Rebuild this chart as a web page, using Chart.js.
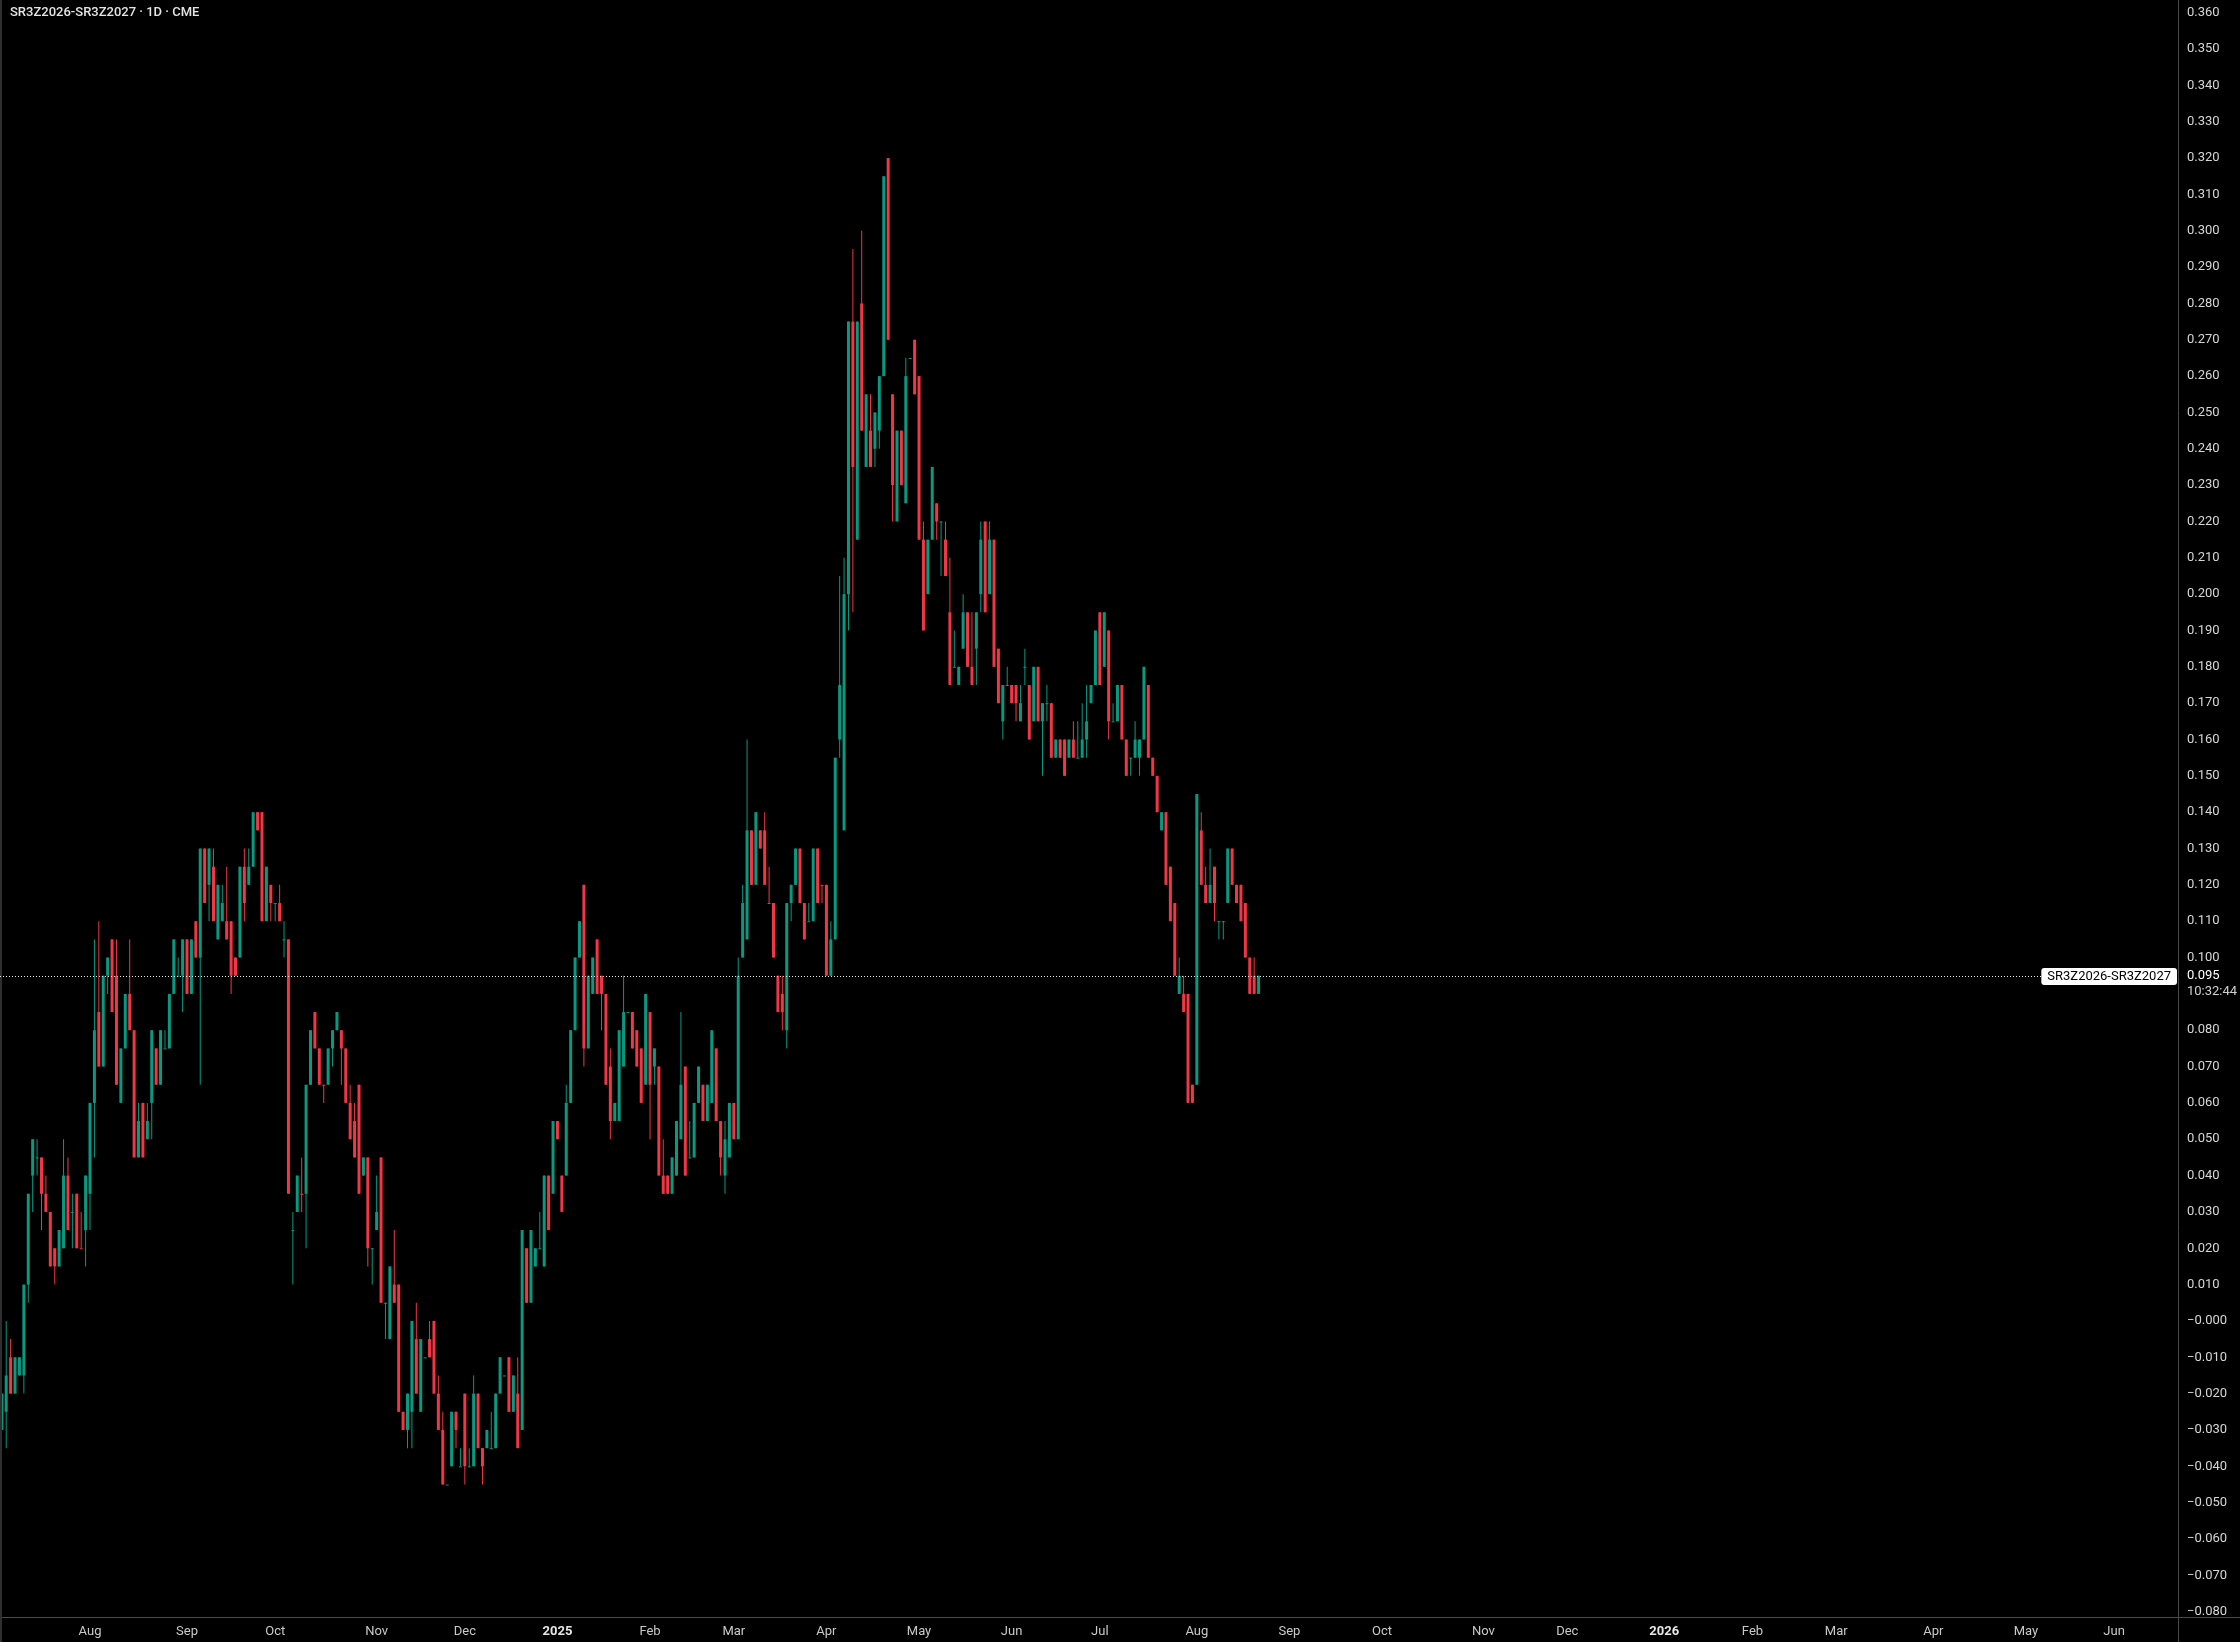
<!DOCTYPE html>
<html>
<head>
<meta charset="utf-8">
<script src="https://cdn.jsdelivr.net/npm/chart.js@4.4.1/dist/chart.umd.min.js"></script>
<style>
html,body{margin:0;padding:0;background:#000;}
#wrap{position:relative;width:2240px;height:1642px;overflow:hidden;}
#c{position:absolute;left:0;top:0;}
#title{position:absolute;left:10px;top:4px;font:500 13px Roboto, sans-serif;line-height:16px;color:#e4e4e4;white-space:nowrap;}
</style>
</head>
<body>
<div id="wrap">
<canvas id="c" width="2240" height="1642"></canvas>
<div id="title">SR3Z2026-SR3Z2027 · 1D · CME</div>
</div>
<script>
// ---------------- data ----------------
const symbol = "SR3Z2026-SR3Z2027";
const countdown = "10:32:44";
const firstSession = "2024-07-03";
const holidays = ["2024-07-04","2024-09-02","2024-11-28","2024-12-25","2025-01-01","2025-01-20","2025-02-17",
  "2025-04-18","2025-05-26","2025-06-19","2025-07-04","2025-09-01","2025-11-27","2025-12-25",
  "2026-01-01","2026-01-19","2026-02-16","2026-04-03","2026-05-25"];
const monthNames = ["Jan","Feb","Mar","Apr","May","Jun","Jul","Aug","Sep","Oct","Nov","Dec"];

const open = [
-0.030,-0.025,-0.010,-0.020,-0.015,-0.015,0.010,0.040,0.045,0.045,
0.035,0.030,0.020,0.015,0.020,0.040,0.030,0.035,0.020,0.025,
0.035,0.060,0.085,0.070,0.095,0.105,0.095,0.060,0.075,0.090,
0.080,0.045,0.060,0.050,0.060,0.075,0.065,0.075,0.075,0.090,
0.095,0.095,0.105,0.090,0.110,0.100,0.130,0.120,0.125,0.105,
0.110,0.110,0.110,0.100,0.100,0.125,0.120,0.125,0.140,0.140,
0.110,0.120,0.115,0.115,0.105,0.105,0.025,0.030,0.035,0.035,
0.065,0.085,0.075,0.065,0.065,0.075,0.080,0.080,0.075,0.060,
0.055,0.065,0.040,0.045,0.020,0.025,0.045,0.005,-0.005,0.010,
0.010,-0.025,-0.030,-0.025,-0.005,-0.025,-0.010,-0.005,0.000,-0.020,
-0.030,-0.045,-0.040,-0.025,-0.040,-0.020,-0.040,-0.040,-0.020,-0.035,
-0.035,-0.035,-0.035,-0.020,-0.015,-0.010,-0.025,-0.020,-0.030,0.020,
0.005,0.015,0.020,0.015,0.040,0.035,0.055,0.040,0.040,0.060,
0.080,0.100,0.120,0.075,0.090,0.105,0.095,0.090,0.070,0.055,
0.055,0.070,0.085,0.085,0.080,0.075,0.065,0.085,0.070,0.070,
0.040,0.040,0.035,0.040,0.050,0.070,0.045,0.045,0.060,0.065,
0.055,0.060,0.075,0.055,0.040,0.045,0.060,0.050,0.100,0.105,
0.135,0.120,0.135,0.135,0.115,0.115,0.095,0.090,0.080,0.115,
0.120,0.130,0.115,0.110,0.110,0.130,0.120,0.120,0.095,0.105,
0.160,0.135,0.200,0.275,0.215,0.280,0.235,0.245,0.240,0.245,
0.260,0.320,0.255,0.220,0.245,0.225,0.265,0.270,0.260,0.215,
0.200,0.215,0.225,0.220,0.215,0.195,0.180,0.175,0.185,0.195,
0.180,0.185,0.200,0.220,0.200,0.215,0.185,0.165,0.175,0.175,
0.175,0.165,0.180,0.175,0.165,0.180,0.165,0.170,0.170,0.155,
0.160,0.160,0.155,0.160,0.155,0.155,0.160,0.170,0.175,0.195,
0.180,0.190,0.165,0.165,0.175,0.160,0.155,0.155,0.155,0.160,
0.175,0.155,0.150,0.135,0.140,0.125,0.115,0.090,0.090,0.090,
0.065,0.065,0.135,0.120,0.115,0.125,0.110,0.110,0.115,0.130,
0.120,0.120,0.115,0.100,0.095,0.090];

const high = [
-0.020,0.000,-0.005,-0.010,-0.010,0.010,0.035,0.050,0.050,0.045,
0.040,0.030,0.020,0.025,0.050,0.045,0.035,0.035,0.030,0.040,
0.060,0.105,0.110,0.095,0.100,0.105,0.105,0.075,0.090,0.105,
0.080,0.060,0.060,0.060,0.080,0.075,0.080,0.080,0.090,0.105,
0.100,0.105,0.105,0.105,0.110,0.130,0.130,0.130,0.130,0.120,
0.120,0.125,0.110,0.100,0.125,0.130,0.130,0.140,0.140,0.140,
0.125,0.120,0.115,0.120,0.110,0.105,0.030,0.040,0.045,0.065,
0.080,0.085,0.075,0.065,0.075,0.080,0.085,0.080,0.075,0.065,
0.060,0.065,0.045,0.045,0.020,0.040,0.045,0.005,0.015,0.025,
0.010,-0.025,-0.020,0.000,0.005,-0.005,-0.010,0.000,0.000,-0.015,
-0.025,-0.045,-0.025,-0.025,-0.035,-0.020,-0.035,-0.015,-0.020,-0.035,
-0.030,-0.025,-0.020,-0.010,-0.015,-0.010,-0.015,-0.010,0.025,0.020,
0.025,0.020,0.030,0.040,0.040,0.055,0.055,0.040,0.065,0.080,
0.100,0.110,0.120,0.095,0.100,0.105,0.095,0.090,0.075,0.060,
0.080,0.095,0.085,0.085,0.080,0.075,0.090,0.085,0.075,0.070,
0.050,0.040,0.045,0.055,0.085,0.070,0.055,0.060,0.070,0.065,
0.065,0.080,0.075,0.055,0.055,0.060,0.060,0.100,0.120,0.160,
0.135,0.140,0.135,0.140,0.125,0.115,0.095,0.095,0.115,0.120,
0.130,0.130,0.115,0.115,0.130,0.130,0.120,0.120,0.110,0.155,
0.205,0.210,0.275,0.295,0.275,0.300,0.255,0.255,0.250,0.260,
0.315,0.320,0.255,0.245,0.245,0.265,0.265,0.270,0.260,0.220,
0.215,0.235,0.225,0.220,0.220,0.210,0.190,0.180,0.200,0.195,
0.195,0.195,0.220,0.220,0.220,0.215,0.185,0.175,0.180,0.175,
0.175,0.175,0.185,0.175,0.180,0.180,0.170,0.175,0.170,0.160,
0.160,0.160,0.160,0.165,0.165,0.170,0.175,0.175,0.190,0.195,
0.195,0.190,0.170,0.175,0.175,0.160,0.155,0.165,0.160,0.180,
0.175,0.155,0.150,0.140,0.140,0.125,0.115,0.100,0.095,0.090,
0.065,0.145,0.140,0.125,0.130,0.125,0.110,0.110,0.130,0.130,
0.120,0.120,0.115,0.100,0.100,0.095];

const low = [
-0.030,-0.035,-0.020,-0.020,-0.015,-0.020,0.005,0.030,0.040,0.025,
0.030,0.015,0.010,0.015,0.020,0.025,0.020,0.020,0.020,0.015,
0.025,0.045,0.070,0.070,0.090,0.085,0.065,0.060,0.075,0.080,
0.045,0.045,0.045,0.050,0.050,0.065,0.065,0.075,0.075,0.090,
0.095,0.085,0.090,0.090,0.100,0.065,0.115,0.110,0.110,0.105,
0.110,0.105,0.090,0.095,0.100,0.110,0.120,0.125,0.135,0.110,
0.110,0.110,0.110,0.110,0.100,0.035,0.010,0.030,0.030,0.020,
0.065,0.075,0.065,0.060,0.065,0.070,0.080,0.065,0.060,0.050,
0.045,0.035,0.040,0.015,0.010,0.025,0.005,-0.005,-0.005,0.005,
-0.025,-0.030,-0.035,-0.035,-0.020,-0.025,-0.010,-0.010,-0.020,-0.030,
-0.045,-0.045,-0.040,-0.035,-0.040,-0.045,-0.040,-0.040,-0.035,-0.045,
-0.035,-0.035,-0.035,-0.020,-0.015,-0.025,-0.025,-0.035,-0.030,0.005,
0.005,0.015,0.020,0.015,0.025,0.035,0.050,0.030,0.040,0.060,
0.080,0.100,0.070,0.075,0.090,0.090,0.080,0.065,0.050,0.055,
0.055,0.070,0.085,0.075,0.070,0.060,0.065,0.050,0.065,0.040,
0.035,0.035,0.035,0.040,0.050,0.040,0.045,0.045,0.060,0.055,
0.055,0.060,0.055,0.040,0.035,0.045,0.050,0.050,0.100,0.105,
0.120,0.120,0.130,0.120,0.115,0.100,0.085,0.080,0.075,0.110,
0.120,0.115,0.105,0.110,0.110,0.115,0.115,0.095,0.095,0.105,
0.155,0.135,0.190,0.195,0.215,0.245,0.235,0.235,0.235,0.240,
0.260,0.270,0.220,0.220,0.230,0.225,0.265,0.255,0.215,0.190,
0.200,0.215,0.215,0.205,0.205,0.175,0.180,0.175,0.185,0.180,
0.175,0.175,0.195,0.195,0.200,0.180,0.170,0.160,0.175,0.170,
0.165,0.165,0.175,0.160,0.165,0.165,0.150,0.165,0.155,0.155,
0.155,0.150,0.155,0.155,0.155,0.155,0.155,0.170,0.175,0.175,
0.180,0.160,0.165,0.165,0.160,0.150,0.150,0.155,0.150,0.160,
0.155,0.150,0.140,0.135,0.120,0.110,0.095,0.090,0.085,0.060,
0.060,0.065,0.120,0.115,0.115,0.110,0.105,0.105,0.115,0.120,
0.115,0.110,0.100,0.090,0.090,0.090];

const close = [
-0.020,-0.015,-0.020,-0.010,-0.010,0.010,0.035,0.050,0.045,0.035,
0.030,0.015,0.015,0.025,0.040,0.025,0.030,0.020,0.020,0.040,
0.060,0.080,0.070,0.095,0.100,0.085,0.065,0.075,0.090,0.080,
0.045,0.055,0.045,0.055,0.080,0.065,0.080,0.075,0.090,0.105,
0.095,0.105,0.090,0.105,0.100,0.130,0.115,0.130,0.110,0.120,
0.115,0.105,0.095,0.095,0.125,0.115,0.125,0.140,0.135,0.110,
0.125,0.115,0.115,0.110,0.105,0.035,0.025,0.040,0.035,0.065,
0.080,0.075,0.065,0.065,0.075,0.080,0.085,0.075,0.060,0.050,
0.045,0.035,0.045,0.020,0.020,0.030,0.005,0.005,0.015,0.005,
-0.025,-0.030,-0.020,0.000,-0.020,-0.005,-0.010,-0.010,-0.020,-0.030,
-0.045,-0.045,-0.025,-0.030,-0.040,-0.040,-0.040,-0.020,-0.035,-0.040,
-0.030,-0.035,-0.020,-0.010,-0.015,-0.025,-0.015,-0.035,0.025,0.005,
0.025,0.020,0.020,0.040,0.025,0.055,0.050,0.030,0.060,0.080,
0.100,0.110,0.075,0.095,0.100,0.090,0.090,0.065,0.055,0.060,
0.080,0.085,0.085,0.075,0.070,0.060,0.090,0.065,0.075,0.040,
0.035,0.035,0.045,0.055,0.065,0.040,0.045,0.060,0.070,0.055,
0.065,0.080,0.055,0.045,0.050,0.060,0.050,0.095,0.115,0.135,
0.120,0.140,0.130,0.120,0.115,0.100,0.085,0.085,0.115,0.120,
0.130,0.115,0.105,0.110,0.130,0.115,0.120,0.095,0.105,0.155,
0.175,0.200,0.275,0.235,0.275,0.245,0.255,0.235,0.250,0.260,
0.315,0.270,0.230,0.245,0.230,0.260,0.265,0.255,0.215,0.190,
0.215,0.235,0.220,0.220,0.205,0.175,0.180,0.180,0.195,0.180,
0.175,0.195,0.215,0.195,0.215,0.180,0.170,0.175,0.175,0.170,
0.170,0.170,0.180,0.160,0.180,0.165,0.170,0.170,0.155,0.160,
0.155,0.150,0.160,0.155,0.155,0.160,0.165,0.175,0.190,0.175,
0.195,0.165,0.165,0.175,0.160,0.150,0.155,0.160,0.160,0.180,
0.155,0.150,0.140,0.140,0.120,0.110,0.095,0.095,0.085,0.060,
0.060,0.145,0.120,0.115,0.120,0.115,0.110,0.110,0.130,0.120,
0.115,0.110,0.100,0.090,0.090,0.095];

// bars whose open equals close but were drawn in the "down" colour
const downDojiBars = [18, 68, 73, 174, 186];

const yTickValues = [-0.08,-0.07,-0.06,-0.05,-0.04,-0.03,-0.02,-0.01,0,0.01,0.02,0.03,0.04,0.05,0.06,0.07,0.08,0.09,
  0.10,0.11,0.12,0.13,0.14,0.15,0.16,0.17,0.18,0.19,0.20,0.21,0.22,0.23,0.24,0.25,0.26,0.27,0.28,0.29,0.30,
  0.31,0.32,0.33,0.34,0.35,0.36];

// ---------------- view ----------------
const UP = '#089981', DOWN = '#F23645';
const X_MIN = -0.41, X_MAX = 493.5;       // visible bar-index window
const Y_MIN = -0.08147, Y_MAX = 0.3635;   // visible price window
const SESSIONS_SHOWN = 495;

// trading-session calendar (weekdays minus exchange holidays)
function sessions(start, n) {
  const out = [];
  const d = new Date(start + 'T00:00:00Z');
  while (out.length < n) {
    const dow = d.getUTCDay();
    const s = d.toISOString().slice(0, 10);
    if (dow !== 0 && dow !== 6 && !holidays.includes(s)) out.push(s);
    d.setUTCDate(d.getUTCDate() + 1);
  }
  return out;
}
const dates = sessions(firstSession, SESSIONS_SHOWN);
const monthTicks = [];
for (let i = 1; i < dates.length; i++) {
  if (dates[i].slice(5, 7) !== dates[i - 1].slice(5, 7)) {
    const m = +dates[i].slice(5, 7) - 1;
    monthTicks.push({ idx: i, label: m === 0 ? dates[i].slice(0, 4) : monthNames[m], year: m === 0 });
  }
}
const tickLabel = {}; const yearTick = new Set();
monthTicks.forEach(t => { tickLabel[t.idx] = t.label; if (t.year) yearTick.add(t.idx); });

const colors = open.map((o, i) => close[i] > o ? UP : close[i] < o ? DOWN : (downDojiBars.includes(i) ? DOWN : UP));
const bodies = open.map((o, i) => ({ x: i, y: [Math.min(o, close[i]), Math.max(o, close[i])] }));
const wicks = high.map((h, i) => ({ x: i, y: [low[i], h] }));
const lastClose = close[close.length - 1];

function fmt(v) {
  const r = Math.round(v * 1000) / 1000;
  if (r <= 0) return '\u2212' + Math.abs(r).toFixed(3);
  return r.toFixed(3);
}

const decor = {
  id: 'decor',
  afterDraw(chart) {
    const ctx = chart.ctx, ca = chart.chartArea, ys = chart.scales.y;
    ctx.save();
    // axis frame lines
    ctx.strokeStyle = '#4a4a4a'; ctx.lineWidth = 1;
    ctx.beginPath(); ctx.moveTo(Math.round(ca.right) + 0.5, 0); ctx.lineTo(Math.round(ca.right) + 0.5, chart.height); ctx.stroke();
    ctx.beginPath(); ctx.moveTo(0, Math.round(ca.bottom) + 0.5); ctx.lineTo(chart.width, Math.round(ca.bottom) + 0.5); ctx.stroke();
    ctx.strokeStyle = '#2e2e2e'; ctx.lineWidth = 2;
    ctx.beginPath(); ctx.moveTo(1, 0); ctx.lineTo(1, chart.height); ctx.stroke();

    // last price dotted line + symbol tag
    const py = Math.round(ys.getPixelForValue(lastClose));
    ctx.font = '13px Roboto, sans-serif';
    const tw = ctx.measureText(symbol).width;
    const bw = tw + 12, bh = 17;
    const bx = ca.right - 1 - bw, by = py - 8;
    ctx.strokeStyle = '#e8e8e8'; ctx.lineWidth = 1; ctx.setLineDash([1, 2]);
    ctx.beginPath(); ctx.moveTo(0, py + 0.5); ctx.lineTo(bx, py + 0.5); ctx.stroke();
    ctx.setLineDash([]);
    ctx.fillStyle = '#ffffff';
    ctx.beginPath(); ctx.roundRect(bx, by, bw, bh, 3); ctx.fill();
    ctx.fillStyle = '#000000'; ctx.textBaseline = 'middle'; ctx.textAlign = 'left';
    ctx.fillText(symbol, bx + 6, py + 0.5);
    // price + countdown on axis
    ctx.fillStyle = '#000000';
    ctx.fillRect(ca.right + 1, py - 9, chart.width - ca.right - 1, 33);
    ctx.fillStyle = '#ffffff';
    ctx.fillText(fmt(lastClose), ca.right + 9, py);
    ctx.fillStyle = '#cfcfcf';
    ctx.fillText(countdown, ca.right + 9, py + 16);
    ctx.restore();
  }
};

new Chart(document.getElementById('c'), {
  type: 'bar',
  data: {
    datasets: [
      { label: 'body', data: bodies, backgroundColor: colors, barThickness: 3, minBarLength: 1,
        grouped: false, inflateAmount: 0, borderWidth: 0, order: 0 },
      { label: 'wick', data: wicks, backgroundColor: colors, barThickness: 1,
        grouped: false, inflateAmount: 0, borderWidth: 0, order: 1 }
    ]
  },
  options: {
    responsive: false,
    devicePixelRatio: 1,
    animation: false,
    events: [],
    layout: { padding: 0, autoPadding: false },
    plugins: { legend: { display: false }, tooltip: { enabled: false }, title: { display: false } },
    scales: {
      x: {
        type: 'linear', min: X_MIN, max: X_MAX, offset: false, bounds: 'data',
        grid: { display: false, drawTicks: false, offset: false }, border: { display: false },
        afterBuildTicks: s => { s.ticks = monthTicks.map(t => ({ value: t.idx })); },
        afterFit: s => { s.height = 25; s.paddingLeft = 0; s.paddingRight = 0; s.paddingTop = 0; s.paddingBottom = 0; },
        ticks: {
          autoSkip: false, maxRotation: 0, minRotation: 0, padding: 7,
          color: c => (c.tick && yearTick.has(c.tick.value)) ? '#e6e6e6' : '#c9c9c9',
          font: c => ({ family: 'Roboto', size: 13, weight: (c.tick && yearTick.has(c.tick.value)) ? 'bold' : 'normal' }),
          callback: v => tickLabel[v] || ''
        }
      },
      y: {
        type: 'linear', position: 'right', min: Y_MIN, max: Y_MAX, bounds: 'data',
        grid: { display: false, drawTicks: false }, border: { display: false },
        afterBuildTicks: s => { s.ticks = yTickValues.map(v => ({ value: v })); },
        afterFit: s => { s.width = 62; s.paddingTop = 0; s.paddingBottom = 0; s.paddingLeft = 0; s.paddingRight = 0; },
        ticks: {
          autoSkip: false, padding: 9, color: '#d6d6d6',
          font: { family: 'Roboto', size: 13 },
          callback: v => (v < lastClose && v > lastClose - 0.0075) ? '' : fmt(v)
        }
      }
    }
  },
  plugins: [decor]
});
</script>
</body>
</html>
